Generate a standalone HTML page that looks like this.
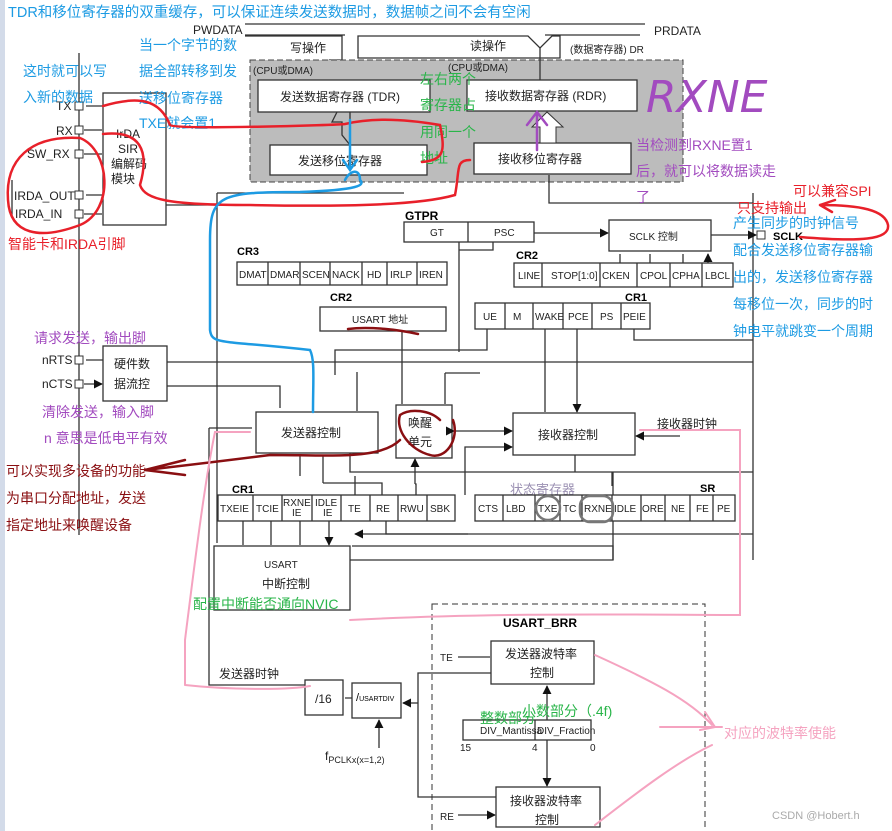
<!DOCTYPE html>
<html><head><meta charset="utf-8"><style>
body{margin:0;background:#fff;}
svg{display:block;font-family:"Liberation Sans","Noto Sans CJK SC",sans-serif;}
.b{fill:#fff;stroke:#333;stroke-width:1.3}
.l{stroke:#333;stroke-width:1.3;fill:none}
.t{font-size:12px;fill:#222}
.s{font-size:10px;fill:#222}
.bl{font-size:14px;fill:#1d9be3}
.gr{font-size:14px;fill:#2ab54a}
.rd{font-size:14px;fill:#e8202a}
.pu{font-size:14px;fill:#a24bbf}
.dr{font-size:14px;fill:#8a0f12}
</style></head><body>
<svg width="892" height="831" viewBox="0 0 892 831" xmlns="http://www.w3.org/2000/svg">
<defs><marker id="a" viewBox="0 0 10 10" refX="9" refY="5" markerWidth="7" markerHeight="7" orient="auto"><path d="M0,0L10,5L0,10z" fill="#111"/></marker></defs>
<rect x="0" y="0" width="5" height="831" fill="#d3dbe9"/>
<text x="8" y="17" style="font-size:14.5px;fill:#1d9be3">TDR和移位寄存器的双重缓存，可以保证连续发送数据时，数据帧之间不会有空闲</text>
<text x="193" y="34" class="t">PWDATA</text>
<text x="654" y="35" class="t">PRDATA</text>
<path class="l" d="M245,24H645M245,35H345M545,35H640"/>
<path class="b" d="M245,36H342V60H330L345,75L330,60"/>
<text x="290" y="52" class="t">写操作</text>
<rect x="250" y="60" width="433" height="122" fill="#bcbcbc" stroke="#444" stroke-dasharray="6,3"/>
<path class="b" d="M358,36H528L540,48L552,36H560V58H358Z"/>
<text x="470" y="50" class="t">读操作</text>
<text x="570" y="53" class="s">(数据寄存器) DR</text>
<text x="253" y="74" class="s">(CPU或DMA)</text>
<text x="448" y="71" class="s">(CPU或DMA)</text>
<path d="M540,48V80" class="l"/>
<rect x="258" y="80" width="172" height="32" class="b"/>
<text x="280" y="101" class="t">发送数据寄存器 (TDR)</text>
<rect x="270" y="145" width="157" height="30" class="b"/>
<text x="298" y="165" class="t">发送移位寄存器</text>
<path d="M337,112L332,122H342V135L350,145 M350,112V122" class="l" fill="#fff"/>
<rect x="467" y="80" width="170" height="31" class="b"/>
<text x="485" y="100" class="t">接收数据寄存器 (RDR)</text>
<rect x="474" y="143" width="157" height="31" class="b"/>
<text x="498" y="163" class="t">接收移位寄存器</text>
<path d="M547,112L532,127H540V143H556V127H563Z" fill="#fff" stroke="#333"/>
<path class="l" d="M79,53V535"/>
<rect x="103" y="93" width="63" height="132" class="b"/>
<text x="116" y="138" class="t">IrDA</text><text x="118" y="153" class="t">SIR</text>
<text x="111" y="168" class="t">编解码</text><text x="111" y="183" class="t">模块</text>
<g class="t">
<text x="56" y="110">TX</text><text x="56" y="135">RX</text><text x="27" y="158">SW_RX</text>
<text x="14" y="200">IRDA_OUT</text><text x="15" y="218">IRDA_IN</text>
<text x="42" y="364">nRTS</text><text x="42" y="388">nCTS</text>
</g>
<g fill="#fff" stroke="#333"><rect x="75" y="102" width="8" height="8"/><rect x="75" y="126" width="8" height="8"/><rect x="75" y="150" width="8" height="8"/><rect x="75" y="191" width="8" height="8"/><rect x="75" y="210" width="8" height="8"/><rect x="75" y="356" width="8" height="8"/><rect x="75" y="380" width="8" height="8"/></g>
<path class="l" marker-end="url(#a)" d="M103,106H86M84,130H102M84,154H102M103,195H86M84,214H102M103,360H86M84,384H102"/>
<path class="l" d="M12,180V218"/>
<rect x="103" y="346" width="64" height="55" class="b"/>
<text x="114" y="368" class="t">硬件数</text><text x="114" y="388" class="t">据流控</text>
<path class="l" d="M167,362H753M167,386H280V408"/>
<path class="l" d="M166,205H250"/>
<path class="l" d="M217,193H404M217,193V543M753,193V560"/>
<path class="l" d="M549,175V203H753"/>
<text x="405" y="220" style="font-size:12px;font-weight:bold">GTPR</text>
<rect x="404" y="222" width="130" height="20" class="b"/><path class="l" d="M468,222V242"/>
<text x="430" y="236" class="s">GT</text><text x="494" y="236" class="s">PSC</text>
<path class="l" marker-end="url(#a)" d="M534,233H608"/>
<rect x="609" y="220" width="102" height="31" class="b"/>
<text x="629" y="240" class="s">SCLK 控制</text>
<rect x="757" y="231" width="8" height="8" fill="#fff" stroke="#333"/>
<text x="773" y="240" style="font-size:11px;font-weight:bold">SCLK</text>
<path class="l" marker-end="url(#a)" d="M711,235H756"/>
<path class="l" d="M459,242V250H493V242M459,250V352"/>
<text x="237" y="255" style="font-size:11px;font-weight:bold">CR3</text>
<rect x="237" y="262" width="210" height="23" class="b"/>
<path class="l" d="M268,262V285M300,262V285M330,262V285M362,262V285M387,262V285M417,262V285"/>
<g class="s"><text x="239" y="278">DMAT</text><text x="270" y="278">DMAR</text><text x="302" y="278">SCEN</text><text x="332" y="278">NACK</text><text x="367" y="278">HD</text><text x="390" y="278">IRLP</text><text x="419" y="278">IREN</text></g>
<text x="516" y="259" style="font-size:11px;font-weight:bold">CR2</text>
<rect x="514" y="263" width="219" height="24" class="b"/>
<path class="l" d="M542,263V287M600,263V287M637,263V287M670,263V287M702,263V287"/>
<g class="s"><text x="518" y="279">LINE</text><text x="551" y="279">STOP[1:0]</text><text x="602" y="279">CKEN</text><text x="640" y="279">CPOL</text><text x="672" y="279">CPHA</text><text x="705" y="279">LBCL</text></g>
<path class="l" marker-end="url(#a)" d="M620,263V254M650,263V254M683,263V254M708,263V254"/>
<text x="330" y="301" style="font-size:11px;font-weight:bold">CR2</text>
<rect x="320" y="307" width="126" height="24" class="b"/>
<text x="352" y="323" class="s">USART 地址</text>
<text x="625" y="301" style="font-size:11px;font-weight:bold">CR1</text>
<rect x="475" y="303" width="175" height="26" class="b"/>
<path class="l" d="M505,303V329M533,303V329M563,303V329M592,303V329M621,303V329"/>
<g class="s"><text x="483" y="320">UE</text><text x="513" y="320">M</text><text x="535" y="320">WAKE</text><text x="568" y="320">PCE</text><text x="600" y="320">PS</text><text x="623" y="320">PEIE</text></g>
<path class="l" d="M487,329V350H459M459,350H335V375M634,329V340H753"/>
<path class="l" marker-end="url(#a)" d="M357,372V411M402,331V404M445,373V404M545,329V412M577,329V412"/>
<path class="l" d="M445,373H480"/>
<rect x="256" y="412" width="122" height="41" class="b"/>
<text x="281" y="437" class="t">发送器控制</text>
<rect x="396" y="405" width="56" height="53" class="b"/>
<text x="408" y="427" class="t">唤醒</text><text x="408" y="446" class="t">单元</text>
<rect x="513" y="413" width="122" height="42" class="b"/>
<text x="538" y="439" class="t">接收器控制</text>
<path class="l" marker-start="url(#a)" marker-end="url(#a)" d="M454,431H512"/>
<path class="l" marker-end="url(#a)" d="M465,495V447H512"/>
<text x="657" y="428" class="t">接收器时钟</text>
<path class="l" marker-end="url(#a)" d="M680,436H636"/>
<path class="l" d="M350,453V472H753M575,455V472M613,472V560H217"/>
<path class="l" marker-end="url(#a)" d="M612,472V486M300,476V456M323,483V456M415,484V459"/>
<path class="l" d="M355,495V476M323,483H382V495M415,484H416V495M386,521V534H753"/>
<text x="232" y="493" style="font-size:11px;font-weight:bold">CR1</text>
<rect x="218" y="495" width="237" height="26" class="b"/>
<path class="l" d="M253,495V521M282,495V521M312,495V521M341,495V521M370,495V521M398,495V521M427,495V521"/>
<g class="s"><text x="220" y="512">TXEIE</text><text x="256" y="512">TCIE</text><text x="283" y="506">RXNE</text><text x="292" y="516">IE</text><text x="315" y="506">IDLE</text><text x="323" y="516">IE</text><text x="348" y="512">TE</text><text x="376" y="512">RE</text><text x="400" y="512">RWU</text><text x="430" y="512">SBK</text></g>
<path class="l" marker-end="url(#a)" d="M243,521V545M271,521V545M300,521V545M329,521V545"/>
<text x="700" y="492" style="font-size:11px;font-weight:bold">SR</text>
<text x="510" y="494" style="font-size:13px;fill:#9a8fb2">状态寄存器</text>
<rect x="475" y="495" width="260" height="26" class="b"/>
<path class="l" d="M503,495V521M535,495V521M560,495V521M582,495V521M612,495V521M641,495V521M665,495V521M690,495V521M713,495V521"/>
<g class="s"><text x="478" y="512">CTS</text><text x="506" y="512">LBD</text><text x="538" y="512">TXE</text><text x="563" y="512">TC</text><text x="584" y="512">RXNE</text><text x="614" y="512">IDLE</text><text x="642" y="512">ORE</text><text x="671" y="512">NE</text><text x="696" y="512">FE</text><text x="717" y="512">PE</text></g>
<ellipse cx="548" cy="508" rx="12" ry="12" fill="none" stroke="#777" stroke-width="2.5"/>
<rect x="580" y="496" width="33" height="26" rx="10" fill="none" stroke="#777" stroke-width="2.5"/>
<path class="l" marker-end="url(#a)" d="M613,560V546H352M468,534H355"/>
<rect x="214" y="546" width="136" height="64" class="b"/>
<text x="264" y="568" class="s">USART</text>
<text x="262" y="588" class="t">中断控制</text>
<path class="l" d="M209,428V685H305M252,428H209"/>
<text x="219" y="678" class="t">发送器时钟</text>
<rect x="432" y="604" width="273" height="240" fill="none" stroke="#333" stroke-dasharray="6,4"/>
<text x="503" y="627" style="font-size:12px;font-weight:bold">USART_BRR</text>
<rect x="491" y="641" width="103" height="43" class="b"/>
<text x="505" y="658" class="t">发送器波特率</text><text x="530" y="677" class="t">控制</text>
<text x="440" y="661" class="s">TE</text>
<path class="l" marker-end="url(#a)" d="M458,657H490M458,815H495"/>
<text x="440" y="820" class="s">RE</text>
<rect x="463" y="720" width="128" height="20" class="b"/><path class="l" d="M535,720V740"/>
<text x="480" y="734" class="s">DIV_Mantissa</text><text x="537" y="734" class="s">DIV_Fraction</text>
<text x="460" y="751" class="s">15</text><text x="532" y="751" class="s">4</text><text x="590" y="751" class="s">0</text>
<path class="l" marker-end="url(#a)" stroke-width="2" d="M547,720V686"/>
<path class="l" marker-end="url(#a)" d="M547,740V786"/>
<rect x="496" y="787" width="104" height="40" class="b"/>
<text x="510" y="805" class="t">接收器波特率</text><text x="535" y="824" class="t">控制</text>
<path class="l" d="M491,673H418V797H496"/>
<path class="l" marker-end="url(#a)" d="M418,703H403"/>
<rect x="305" y="680" width="38" height="35" class="b"/><text x="315" y="703" class="t">/16</text>
<rect x="352" y="683" width="49" height="35" class="b"/><text x="356" y="701" style="font-size:11px">/<tspan font-size="7">USARTDIV</tspan></text>
<path class="l" marker-end="url(#a)" d="M352,698H345M379,748V720"/>
<text x="325" y="760" class="t">f<tspan font-size="9" dy="3">PCLKx(x=1,2)</tspan></text>
<text x="772" y="819" style="font-size:11px;fill:#aaa">CSDN @Hobert.h</text>
<g class="bl"><text x="139" y="50">当一个字节的数</text><text x="139" y="76">据全部转移到发</text><text x="139" y="103">送移位寄存器</text><text x="139" y="128">TXE就会置1</text>
<text x="23" y="76">这时就可以写</text><text x="23" y="102">入新的数据</text>
<text x="733" y="228">产生同步的时钟信号</text><text x="733" y="255">配合发送移位寄存器输</text><text x="733" y="282">出的，发送移位寄存器</text><text x="733" y="309">每移位一次，同步的时</text><text x="733" y="336">钟电平就跳变一个周期</text></g>
<g class="gr"><text x="420" y="84">左右两个</text><text x="420" y="110">寄存器占</text><text x="420" y="137">用同一个</text><text x="420" y="163">地址</text>
<text x="193" y="609">配置中断能否通向NVIC</text><text x="480" y="723">整数部分</text><text x="522" y="716">小数部分（.4f)</text></g>
<g class="rd"><text x="8" y="249">智能卡和IRDA引脚</text><text x="793" y="196">可以兼容SPI</text><text x="737" y="213">只支持输出</text></g>
<g class="pu"><text x="636" y="150">当检测到RXNE置1</text><text x="636" y="176">后，就可以将数据读走</text><text x="636" y="202">了</text>
<text x="34" y="343">请求发送，输出脚</text><text x="42" y="417">清除发送，输入脚</text><text x="44" y="443">n 意思是低电平有效</text></g>
<g class="dr"><text x="6" y="476">可以实现多设备的功能</text><text x="6" y="503">为串口分配地址，发送</text><text x="6" y="530">指定地址来唤醒设备</text></g>
<text x="724" y="738" style="font-size:14px;fill:#f5a3c0">对应的波特率使能</text>
<text x="646" y="112" style="font-size:44px;fill:#a24bbf;font-style:italic;font-family:'DejaVu Sans',sans-serif;font-weight:200">RXNE</text>
<g fill="none" stroke-linecap="round">
<path stroke="#e8202a" stroke-width="2.5" d="M103,106C140,95 160,100 170,125C175,130 340,125 345,124C370,118 400,118 440,125C445,150 445,160 422,162M103,134C140,130 150,150 140,185C145,200 170,205 250,205C350,207 420,205 455,195C460,170 455,160 470,160"/>
<path stroke="#e8202a" stroke-width="2.5" d="M80,138C30,135 5,160 8,200C10,235 40,240 80,225C115,210 110,150 80,138Z"/>
<path stroke="#e8202a" stroke-width="2.5" d="M820,205C860,205 885,210 888,225C890,240 860,242 800,237M820,205L835,200M820,205L832,212"/>
<path stroke="#1d9be3" stroke-width="2.5" d="M350,120V170M343,160L350,170L357,160M345,180C350,170 360,168 360,180C365,185 360,190 300,192C220,192 210,195 210,240V330C212,345 220,340 310,350C315,360 313,380 313,412"/>
<path stroke="#a24bbf" stroke-width="2.5" d="M537,150V115M527,125L537,112L547,125"/>
<path stroke="#8a0f12" stroke-width="2.5" d="M348,329C370,326 400,330 418,334M453,420C460,440 445,460 430,455C410,450 395,430 400,415C410,408 430,410 440,420M400,440C380,460 330,455 270,455C230,460 190,465 145,470M145,470L185,460M145,470L185,475"/>
<path stroke="#f5a3c0" stroke-width="2" d="M250,432H215C205,480 195,560 185,640V685M185,685C230,690 290,690 310,686M350,620C500,612 650,615 740,615V430H640M595,655C650,680 690,700 712,725M595,825C640,790 680,760 712,745M700,730L715,727L705,712M660,727H722"/>
</g>
</svg>
</body></html>
